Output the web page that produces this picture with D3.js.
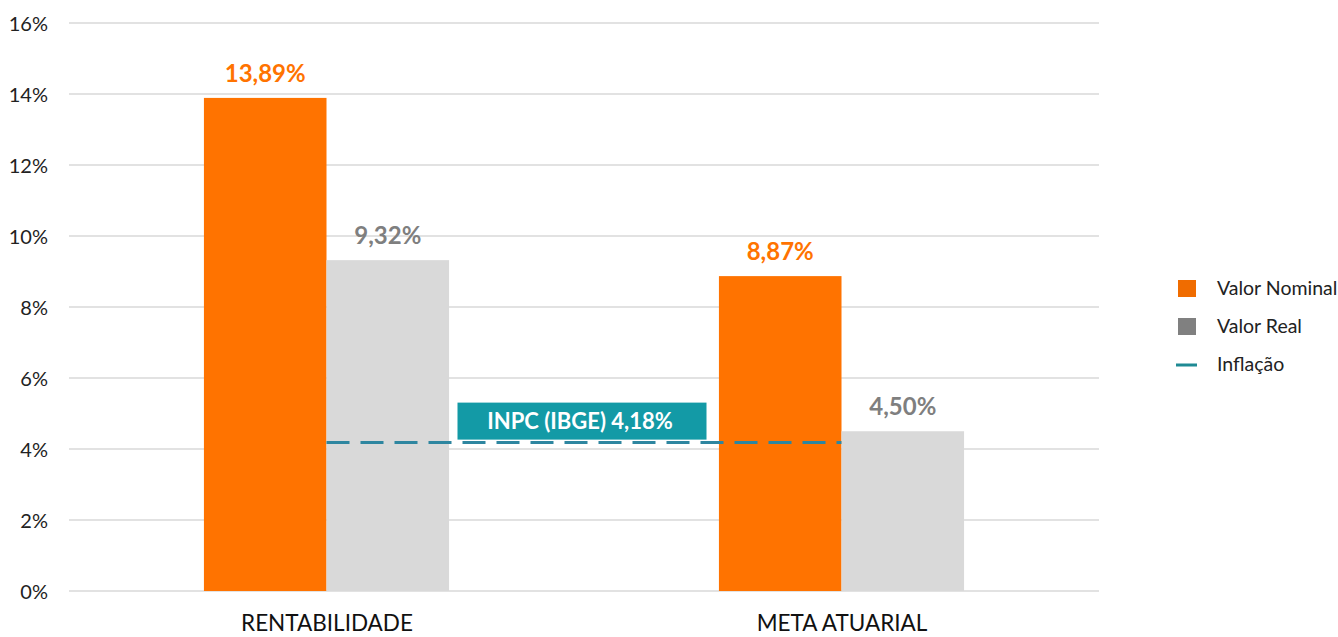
<!DOCTYPE html>
<html>
<head>
<meta charset="utf-8">
<script src="https://cdn.jsdelivr.net/npm/d3@7"></script>
<style>
  body { margin: 0; background: #fff; }
  svg text { font-family: Lato, "Open Sans", sans-serif; }
</style>
</head>
<body>
<div id="chart"></div>
<script>
const categories = ['RENTABILIDADE', 'META ATUARIAL'];
const seriesNames = ['Valor Nominal', 'Valor Real'];
const nominalValues = [13.89, 8.87];
const realValues = [9.32, 4.50];
const inflation = 4.18;
const inflationLabel = 'INPC (IBGE) 4,18%';
const yTicks = [0, 2, 4, 6, 8, 10, 12, 14, 16];

const WIDTH = 1338, HEIGHT = 637;
const PLOT_LEFT = 69, PLOT_RIGHT = 1099;
const PLOT_TOP = 23, PLOT_BOTTOM = 591;

const ORANGE = '#ff7300';
const LIGHT_GRAY = '#d9d9d9';
const LABEL_GRAY = '#7f7f7f';
const TEAL = '#139aa6';
const DASH = '#2e86a0';

const fmt = v => v.toFixed(2).replace('.', ',') + '%';

const svg = d3.select('#chart').append('svg')
    .attr('width', WIDTH)
    .attr('height', HEIGHT);

const y = d3.scaleLinear().domain([0, 16]).range([PLOT_BOTTOM, PLOT_TOP]);
const x0 = d3.scaleBand()
    .domain(categories)
    .range([PLOT_LEFT, PLOT_RIGHT])
    .paddingInner(0.524)
    .paddingOuter(0.262);
const x1 = d3.scaleBand()
    .domain(seriesNames)
    .range([0, x0.bandwidth()]);

// gridlines
svg.append('g')
    .selectAll('line')
    .data(yTicks)
    .enter().append('line')
        .attr('x1', PLOT_LEFT)
        .attr('x2', PLOT_RIGHT)
        .attr('y1', d => y(d))
        .attr('y2', d => y(d))
        .attr('stroke', '#d9d9d9')
        .attr('stroke-width', 1.3);

// y axis labels
const yAxis = d3.axisLeft(y)
    .tickValues(yTicks)
    .tickFormat(d => d + '%')
    .tickSize(0)
    .tickPadding(0);
const yAxisG = svg.append('g')
    .attr('transform', `translate(48, 1)`)
    .call(yAxis);
yAxisG.select('.domain').remove();
yAxisG.selectAll('text')
    .attr('font-size', 20)
    .attr('fill', '#222')
    .style('font-family', 'Lato, sans-serif');

// x axis labels
const xAxis = d3.axisBottom(d3.scalePoint()
    .domain(categories)
    .range([x0(categories[0]) + x0.bandwidth() / 2, x0(categories[1]) + x0.bandwidth() / 2]))
    .tickSize(0)
    .tickPadding(0);
const xAxisG = svg.append('g')
    .attr('transform', `translate(0, 615)`)
    .call(xAxis);
xAxisG.select('.domain').remove();
xAxisG.selectAll('text')
    .attr('font-size', 22.5)
    .attr('fill', '#111')
    .style('font-family', 'Lato, sans-serif');

// bars
const rows = categories.map((c, i) => ({
    category: c,
    values: [
        {series: seriesNames[0], value: nominalValues[i], fill: ORANGE, labelColor: ORANGE},
        {series: seriesNames[1], value: realValues[i], fill: LIGHT_GRAY, labelColor: LABEL_GRAY}
    ]
}));

const groups = svg.selectAll('.group')
    .data(rows)
    .enter().append('g')
        .attr('class', 'group')
        .attr('transform', d => `translate(${x0(d.category)}, 0)`);

groups.selectAll('rect')
    .data(d => d.values)
    .enter().append('rect')
        .attr('x', d => x1(d.series))
        .attr('y', d => y(d.value))
        .attr('width', x1.bandwidth())
        .attr('height', d => y(0) - y(d.value))
        .attr('fill', d => d.fill);

groups.selectAll('.value-label')
    .data(d => d.values)
    .enter().append('text')
        .attr('class', 'value-label')
        .attr('x', d => x1(d.series) + x1.bandwidth() / 2)
        .attr('y', d => y(d.value) - 16)
        .attr('text-anchor', 'middle')
        .attr('font-size', 24)
        .attr('font-weight', 'bold')
        .attr('fill', d => d.labelColor)
        .text(d => fmt(d.value));

// inflation dashed line
const lineX1 = x0(categories[0]) + x0.bandwidth() / 2;
const lineX2 = x0(categories[1]) + x0.bandwidth() / 2;
svg.append('line')
    .attr('x1', lineX1)
    .attr('x2', lineX2)
    .attr('y1', y(inflation))
    .attr('y2', y(inflation))
    .attr('stroke', DASH)
    .attr('stroke-width', 3)
    .attr('stroke-dasharray', '23 11');

// inflation label box
const boxW = 249, boxH = 37;
const boxCx = (lineX1 + lineX2) / 2 - 2;
svg.append('rect')
    .attr('x', boxCx - boxW / 2)
    .attr('y', y(inflation) - boxH - 3)
    .attr('width', boxW)
    .attr('height', boxH)
    .attr('fill', TEAL);
svg.append('text')
    .attr('x', boxCx - 2)
    .attr('y', y(inflation) - boxH / 2 - 3 + 8)
    .attr('text-anchor', 'middle')
    .attr('font-size', 22)
    .attr('font-weight', 'bold')
    .attr('fill', '#fff')
    .text(inflationLabel);

// legend
const legendItems = [
    {name: seriesNames[0], type: 'rect', color: '#f06c00'},
    {name: seriesNames[1], type: 'rect', color: '#808080'},
    {name: 'Inflação', type: 'line', color: '#1f8a94'}
];
const legend = svg.selectAll('.legend')
    .data(legendItems)
    .enter().append('g')
        .attr('class', 'legend')
        .attr('transform', (d, i) => `translate(1178, ${289 + i * 38})`);
legend.each(function(d) {
    const g = d3.select(this);
    if (d.type === 'rect') {
        g.append('rect')
            .attr('x', 0).attr('y', -9)
            .attr('width', 18).attr('height', 17)
            .attr('fill', d.color);
    } else {
        g.append('line')
            .attr('x1', -2).attr('x2', 19)
            .attr('y1', 0).attr('y2', 0)
            .attr('stroke', d.color)
            .attr('stroke-width', 3);
    }
    g.append('text')
        .attr('x', 39)
        .attr('y', 6)
        .attr('font-size', 19.5)
        .attr('fill', '#222')
        .text(d.name);
});
</script>
</body>
</html>
